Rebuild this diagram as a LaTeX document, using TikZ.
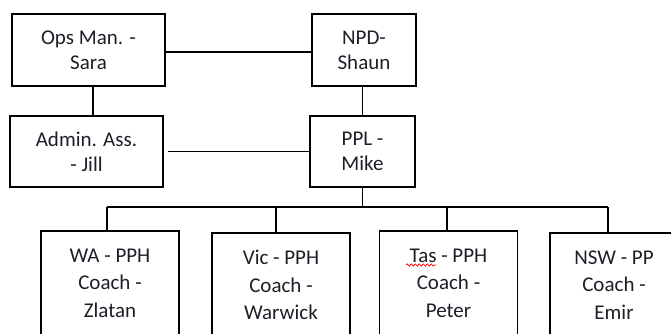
\documentclass[tikz,border=0pt]{standalone}
\usepackage{fontspec}
\setmainfont{Carlito}
\usetikzlibrary{calc,decorations.pathmorphing}
\definecolor{txt}{HTML}{1E1E28}
\begin{document}
\begin{tikzpicture}[x=1pt,y=-1pt,
  box/.style={draw=black, line width=1.5pt, rectangle, inner sep=0pt, align=center,
    text=txt, font=\fontsize{21}{25.3}\selectfont},
  lowbox/.style={box, font=\fontsize{21}{27.5}\selectfont, minimum width=138pt, minimum height=104pt},
  link/.style={draw=black, line width=1.5pt}]
\useasboundingbox (0,0) rectangle (671,333);
\begin{scope}
\clip (0,0) rectangle (671,333);
\node[box, minimum width=153pt, minimum height=72pt] (ops) at (88.5,50) {Ops Man. -\\Sara};
\node[box, minimum width=104pt, minimum height=72pt] (npd) at (364,50) {NPD-\\Shaun};
\node[box, minimum width=153pt, minimum height=71pt] (adm) at (86.5,151.5) {Admin. Ass.\\- Jill};
\node[box, minimum width=105pt, minimum height=71pt] (ppl) at (362.5,151.5) {PPL -\\Mike};
\node[lowbox] (wa) at (110,283) {WA - PPH\\Coach -\\Zlatan};
\node[lowbox] (vic) at (281,285) {Vic - PPH\\Coach -\\Warwick};
\node[lowbox] (tas) at (448.5,283) {Tas - PPH\\Coach -\\Peter};
\node[lowbox, minimum width=128pt] (nsw) at (614,285) {NSW - PP\\Coach -\\Emir};
\end{scope}
\coordinate (opsx) at (93,0);
\coordinate (dwa) at (107,207);
\coordinate (dvic) at (276,207);
\coordinate (dtas) at (447,207);
\coordinate (dnsw) at (608,207);
\coordinate (bus) at (362.5,207);
\draw[link] (ops.east |- 0,52) -- (npd.west |- 0,52);
\draw[link, shorten <=4pt] (adm.east) -- (ppl.west);
\draw[link] (opsx |- ops.south) -- (opsx |- adm.north);
\draw[link] (ppl.north) -- (ppl.north |- npd.south);
\draw[link] (ppl.south) -- (bus);
\draw[link] (dwa) -- (dnsw);
\draw[link] (dwa) -- (dwa |- wa.north);
\draw[link] (dvic) -- (dvic |- vic.north);
\draw[link] (dtas) -- (dtas |- tas.north);
\draw[link] (dnsw) -- (dnsw |- nsw.north);
\coordinate (sqa) at (406,265);
\coordinate (sqb) at (436,265);
\draw[red, line width=0.7pt, decoration={snake, amplitude=1.2pt, segment length=4pt}, decorate] (sqa) -- (sqb);
\end{tikzpicture}
\end{document}
